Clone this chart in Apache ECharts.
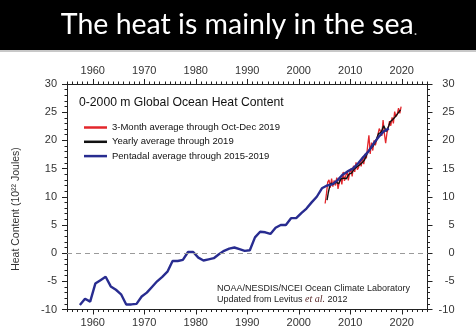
<!DOCTYPE html>
<html>
<head>
<meta charset="utf-8">
<script src="https://cdn.jsdelivr.net/npm/echarts@6/dist/echarts.min.js"></script>
<style>
html,body{margin:0;padding:0;background:#fff;}
#c{width:476px;height:333px;}
</style>
</head>
<body>
<div id="c"></div>
<script>
// ---- data ----
const xTicks = [1960, 1970, 1980, 1990, 2000, 2010, 2020];
const yTicks = [-10, -5, 0, 5, 10, 15, 20, 25, 30];
const seriesNames = ['3-Month average through Oct-Dec 2019', 'Yearly average through 2019', 'Pentadal average through 2015-2019'];

// pentadal average, one value per year, centred at 1957.5 ... 2017.5
const pentadalStart = 1957.5;
const pentadalValues = [
  -9.2, -8.1, -8.6, -5.4, -4.8, -4.2, -5.9, -6.5, -7.3, -9.1,
  -9.1, -9.0, -7.7, -7.0, -6.0, -5.0, -4.2, -3.3, -1.4, -1.4,
  -1.2, 0.2, 0.2, -0.8, -1.3, -1.1, -0.9, -0.2, 0.4, 0.8,
  1.0, 0.7, 0.4, 0.5, 2.8, 3.8, 3.7, 3.4, 4.5, 5.0,
  5.0, 6.2, 6.2, 7.1, 7.9, 9.0, 10.0, 11.5, 12.0, 12.2,
  12.9, 13.9, 14.5, 15.0, 15.9, 17.0, 18.0, 19.4, 20.6, 21.6,
  22.1
];

// yearly average, quarterly steps from 2005.5
const yearlyStart = 2005.5;
const yearlyValues = [
  9.4, 10.8, 11.8, 12.4, 12.5, 12.2, 12.3, 12.6, 12.4, 12.3,
  12.8, 13.2, 13.1, 13.3, 13.4, 13.2, 13.6, 14.0, 14.3, 14.2,
  14.5, 14.9, 15.0, 15.3, 15.1, 15.6, 15.8, 16.0, 16.2, 16.5,
  17.0, 17.6, 18.0, 18.2, 18.6, 18.9, 19.1, 19.4, 19.9, 20.6,
  21.2, 21.5, 21.4, 22.0, 22.6, 22.3, 21.6, 21.8, 22.6, 23.3,
  23.6, 23.7, 24.0, 24.2, 24.4, 24.8, 25.1, 25.4
];

// 3-month average, Jan-Mar 2005 ... Oct-Dec 2019
const threeMonthStart = 2005.125;
const threeMonthValues = [
  8.8, 10.5, 12.6, 13.0,
  11.6, 13.2, 11.8, 12.9,
  12.0, 13.4, 11.4, 12.6,
  13.5, 12.2, 14.4, 12.8,
  13.0, 14.6, 12.9, 14.2,
  15.0, 13.6, 15.5, 14.4,
  16.1, 14.8, 15.2, 16.3,
  15.4, 17.1, 15.8, 17.6,
  16.8, 19.0, 20.9, 17.6,
  19.6, 18.2, 20.0, 19.1,
  19.4, 21.0, 22.1, 21.6,
  20.8, 23.6, 21.2, 19.5,
  21.3, 22.2, 23.4, 22.6,
  24.1, 23.0, 25.1, 24.2,
  24.6, 25.7, 24.8, 26.0
];

function pairs(start, step, vals) {
  return vals.map((v, i) => [start + i * step, v]);
}

const FONT = 'Liberation Sans';
const AX = '#222';

const chart = echarts.init(document.getElementById('c'), null, {renderer: 'canvas'});

function majorX(pos) {
  return {
    type: 'value', position: pos, min: 1955, max: 2025, gridIndex: 0,
    splitLine: {show: false},
    axisLine: {show: true, onZero: false, lineStyle: {color: AX, width: 1}},
    axisTick: {show: true, customValues: xTicks, length: 5, lineStyle: {color: AX}},
    axisLabel: {show: true, customValues: xTicks, margin: 8, color: '#333', fontFamily: FONT, fontSize: 11,
      formatter: v => String(v)}
  };
}
function minorX(pos) {
  return {
    type: 'value', position: pos, min: 1955, max: 2025, interval: 1, gridIndex: 0,
    splitLine: {show: false},
    axisLine: {show: false, onZero: false},
    axisTick: {show: true, length: 2.5, lineStyle: {color: AX}},
    axisLabel: {show: false}
  };
}
function yAx(pos, align, margin) {
  return {
    type: 'value', position: pos, min: yTicks[0], max: yTicks[yTicks.length - 1], interval: 5, gridIndex: 0,
    splitLine: {show: false},
    axisLine: {show: true, onZero: false, lineStyle: {color: AX, width: 1}},
    axisTick: {show: true, length: 5, lineStyle: {color: AX}},
    minorTick: {show: true, splitNumber: 5, length: 2.5, lineStyle: {color: AX}},
    axisLabel: {show: true, align: align, margin: margin, color: '#333', fontFamily: FONT, fontSize: 11}
  };
}

const option = {
  animation: false,
  backgroundColor: '#fff',
  grid: {left: 67, right: 48.5, top: 84, bottom: 23.5, containLabel: false},
  xAxis: [majorX('bottom'), minorX('bottom'), majorX('top'), minorX('top')],
  yAxis: [yAx('left', 'right', 10), yAx('right', 'right', 27)],
  legend: {
    data: seriesNames,
    orient: 'vertical', left: 79, top: 116.5,
    itemWidth: 23, itemHeight: 2.5, itemGap: 2.3, icon: 'rect',
    textStyle: {fontFamily: FONT, fontSize: 9.5, color: '#111', lineHeight: 12},
    selectedMode: false
  },
  series: [
    {
      name: seriesNames[0], type: 'line', symbol: 'none',
      data: pairs(threeMonthStart, 0.25, threeMonthValues),
      lineStyle: {color: '#e3262b', width: 1.3}, itemStyle: {color: '#e3262b'},
      markLine: {
        silent: true, symbol: 'none', label: {show: false},
        lineStyle: {color: '#9a9a9a', type: [5, 4], width: 1},
        data: [{yAxis: 0}]
      }
    },
    {
      name: seriesNames[1], type: 'line', symbol: 'none',
      data: pairs(yearlyStart, 0.25, yearlyValues),
      lineStyle: {color: '#111', width: 1.4}, itemStyle: {color: '#111'}
    },
    {
      name: seriesNames[2], type: 'line', symbol: 'none',
      data: pairs(pentadalStart, 1, pentadalValues),
      lineStyle: {color: '#282c90', width: 2.4}, itemStyle: {color: '#282c90'}
    }
  ],
  graphic: [
    {type: 'rect', shape: {x: 0, y: 0, width: 476, height: 50}, style: {fill: '#000'}, z: 0},
    {type: 'rect', shape: {x: 0, y: 50, width: 476, height: 2}, style: {fill: '#c8c8c8'}, z: 0},
    {
      type: 'text', x: 239, y: 25, z: 10,
      style: {
        text: '{a|The heat is mainly in the sea}{b|.}',
        textAlign: 'center', textVerticalAlign: 'middle',
        rich: {
          a: {fontFamily: 'Lato', fontSize: 28.5, fill: '#fff', color: '#fff'},
          b: {fontFamily: 'Lato', fontSize: 15, fill: '#bbb', color: '#bbb', padding: [11, 0, 0, 0]}
        }
      }
    },
    {
      type: 'text', x: 79, y: 103, z: 10,
      style: {text: '0-2000 m Global Ocean Heat Content', fontFamily: FONT, fontSize: 12.2, fill: '#111', textVerticalAlign: 'middle'}
    },
    {
      type: 'text', x: 16, y: 209, rotation: Math.PI / 2, z: 10,
      style: {text: 'Heat Content (10²² Joules)', fontFamily: FONT, fontSize: 10.5, fill: '#333', textAlign: 'center', textVerticalAlign: 'middle'}
    },
    {
      type: 'text', x: 217, y: 288.5, z: 10,
      style: {text: 'NOAA/NESDIS/NCEI Ocean Climate Laboratory', fontFamily: FONT, fontSize: 9, fill: '#222', textVerticalAlign: 'middle'}
    },
    {
      type: 'text', x: 217, y: 299.5, z: 10,
      style: {
        text: '{n|Updated from Levitus }{i|et al.}{n| 2012}',
        textVerticalAlign: 'middle',
        rich: {
          n: {fontFamily: FONT, fontSize: 9, fill: '#222', color: '#222'},
          i: {fontFamily: 'Liberation Serif', fontStyle: 'italic', fontSize: 10, fill: '#5a2a2a', color: '#5a2a2a'}
        }
      }
    }
  ]
};
chart.setOption(option);
</script>
</body>
</html>
